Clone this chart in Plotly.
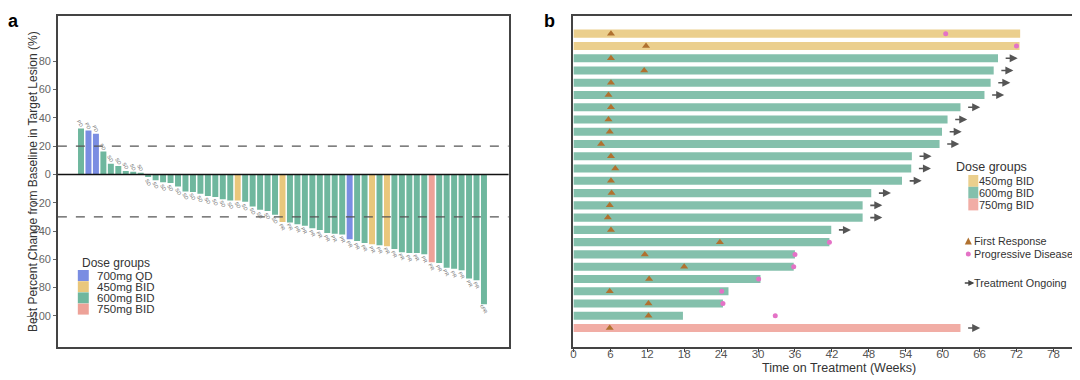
import plotly.graph_objects as go

# ---------------- Panel a data (waterfall) ----------------
best_change = [32.5, 31.0, 28.7, 16.2, 7.5, 5.9, 2.4, 1.9, 1.2,
               -1.9, -4.2, -5.6, -6.1, -8.5, -12.0, -12.5, -13.6, -15.3, -16.0,
               -17.6, -18.4, -18.4, -19.3, -22.6, -25.0, -25.9, -28.5, -33.6, -34.0,
               -35.3, -36.2, -38.0, -39.3, -41.4, -41.9, -42.4, -45.9, -47.0, -48.5,
               -49.4, -50.1, -50.8, -52.7, -55.0, -55.5, -55.5, -56.5, -62.0, -62.6,
               -65.9, -66.6, -67.8, -73.6, -74.8, -91.8]
dose_a = (["600mg BID", "700mg QD", "700mg QD"] + ["600mg BID"] * 18 + ["450mg BID"]
          + ["600mg BID"] * 5 + ["450mg BID"] + ["600mg BID"] * 8 + ["700mg QD"]
          + ["600mg BID"] * 2 + ["450mg BID"] + ["600mg BID"] + ["450mg BID"]
          + ["600mg BID"] * 5 + ["750mg BID"] + ["600mg BID"] * 7)
response_a = (["PD"] * 3 + ["SD"] * 24 + ["PR"] * 27 + ["cPR"])
groups_a = ["700mg QD", "450mg BID", "600mg BID", "750mg BID"]
colors_a = {"700mg QD": "#7a8de2", "450mg BID": "#e9c77c",
            "600mg BID": "#6fb79e", "750mg BID": "#eda298"}
yticks_a = [-100, -80, -60, -40, -20, 0, 20, 40, 60, 80]
ref_lines = [20, -30]

# ---------------- Panel b data (swimmer) ----------------
rows = list(range(1, 26))
dose_b = ["450mg BID"] * 2 + ["600mg BID"] * 22 + ["750mg BID"]
duration = [72.6, 72.5, 69.0, 68.3, 67.8, 66.8, 62.9, 60.8, 59.9, 59.5, 55.0, 54.9,
            53.4, 48.4, 47.0, 47.0, 41.9, 41.6, 36.0, 35.8, 30.4, 25.2, 24.3, 17.8, 62.9]
first_response = [6.1, 11.8, 6.1, 11.5, 6.1, 5.7, 6.1, 5.7, 5.9, 4.5, 6.1, 6.8, 6.1,
                  6.2, 5.9, 5.6, 6.1, 23.8, 11.6, 18.0, 12.3, 5.9, 12.2, 12.2, 5.9]
progression = [60.5, 72.0, None, None, None, None, None, None, None, None, None, None,
               None, None, None, None, None, 41.6, 36.0, 35.8, 30.1, 24.1, 24.3, 32.8, None]
ongoing = [False, False] + [True] * 15 + [False] * 7 + [True]
groups_b = ["450mg BID", "600mg BID", "750mg BID"]
colors_b = {"450mg BID": "#ebcf8d", "600mg BID": "#84c0ac", "750mg BID": "#f1ada5"}
xticks_b = list(range(0, 79, 6))

FONT = "Liberation Sans, Arial, sans-serif"
OFF = 8               # page body margin of the browser
W, H = 1080 - OFF, 380 - OFF
TRI = "#b0712f"
PDC = "#e472c6"
TXT = "#333"


def px(x):
    return (x - OFF) / W


def py(y):
    return 1 - (y - OFF) / H


def label(x, y, text, size, **kw):
    d = dict(x=px(x), y=py(y), xref="paper", yref="paper", text=text, showarrow=False,
             xanchor="left", yanchor="middle", font=dict(size=size, color=TXT, family=FONT))
    d.update(kw)
    return d


fig = go.Figure()

# ---- panel a bars ----
for g in groups_a:
    idx = [i for i, d in enumerate(dose_a) if d == g]
    fig.add_trace(go.Bar(x=idx, y=[best_change[i] for i in idx], width=0.8,
                         marker=dict(color=colors_a[g], line=dict(width=0)),
                         showlegend=False, xaxis="x", yaxis="y"))

annotations = []
for i, (v, r) in enumerate(zip(best_change, response_a)):
    off = 3.5 if v >= 0 else -3.5
    annotations.append(dict(x=i, y=v + off, xref="x", yref="y", text=r, showarrow=False,
                            textangle=60, font=dict(size=5, color="#666", family=FONT),
                            xanchor="center", yanchor="middle"))

shapes = []
for rl in ref_lines:
    shapes.append(dict(type="line", xref="x domain", yref="y", x0=0, x1=1, y0=rl, y1=rl,
                       line=dict(color="#555", width=1.3, dash="dash")))
shapes.append(dict(type="line", xref="x domain", yref="y", x0=0, x1=1, y0=0, y1=0,
                   line=dict(color="#111", width=1.5)))

# ---- panel b bars ----
for g in groups_b:
    idx = [i for i, d in enumerate(dose_b) if d == g]
    fig.add_trace(go.Bar(y=[rows[i] for i in idx], x=[duration[i] for i in idx],
                         orientation="h", width=0.66, base=0,
                         marker=dict(color=colors_b[g], line=dict(width=0)),
                         showlegend=False, xaxis="x2", yaxis="y2"))

fig.add_trace(go.Scatter(x=first_response, y=rows, mode="markers",
                         marker=dict(symbol="triangle-up", size=7, color=TRI),
                         showlegend=False, xaxis="x2", yaxis="y2"))
pr_x = [p for p in progression if p is not None]
pr_y = [r for p, r in zip(progression, rows) if p is not None]
fig.add_trace(go.Scatter(x=pr_x, y=pr_y, mode="markers",
                         marker=dict(symbol="circle", size=5, color=PDC),
                         showlegend=False, xaxis="x2", yaxis="y2"))

for r, d, on in zip(rows, duration, ongoing):
    if on:
        annotations.append(dict(x=d + 3.2, y=r, ax=d + 1.0, ay=r, xref="x2", yref="y2",
                                axref="x2", ayref="y2", text="", showarrow=True,
                                arrowhead=2, arrowsize=1, arrowwidth=1.6,
                                arrowcolor="#555"))

# ---- legend a (manual) ----
annotations.append(label(77, 263, "Dose groups", 12))
for k, g in enumerate(groups_a):
    y0 = 270 + k * 11.2
    shapes.append(dict(type="rect", xref="paper", yref="paper", x0=px(75), x1=px(86),
                       y0=py(y0), y1=py(y0 + 11), fillcolor=colors_a[g], line=dict(width=0)))
    annotations.append(label(92, y0 + 5.5, g, 11.5))

# ---- legend b (manual) ----
annotations.append(label(954, 167, "Dose groups", 12.5))
for k, g in enumerate(groups_b):
    y0 = 175 + k * 11.8
    shapes.append(dict(type="rect", xref="paper", yref="paper", x0=px(968), x1=px(978),
                       y0=py(y0), y1=py(y0 + 11.8), fillcolor=colors_b[g], line=dict(width=0)))
    annotations.append(label(977, y0 + 6, g, 11))

tri_path = "M {:.5f} {:.5f} L {:.5f} {:.5f} L {:.5f} {:.5f} Z".format(
    px(964.5), py(244.5), px(971.5), py(244.5), px(968), py(237.5))
shapes.append(dict(type="path", xref="paper", yref="paper", path=tri_path,
                   fillcolor=TRI, line=dict(width=0)))
shapes.append(dict(type="circle", xref="paper", yref="paper", x0=px(965.5), x1=px(970.5),
                   y0=py(256.5), y1=py(251.5), fillcolor=PDC, line=dict(width=0)))
annotations.append(label(972, 241, "First Response", 10.8))
annotations.append(label(972, 254, "Progressive Disease", 10.8))
annotations.append(dict(x=px(974), y=py(283), ax=-11, ay=0, xref="paper", yref="paper",
                        text="", showarrow=True, arrowhead=2, arrowsize=0.8, arrowwidth=1.5,
                        arrowcolor="#444"))
annotations.append(label(972, 283, "Treatment Ongoing", 10.8))

# ---- panel labels & titles ----
annotations.append(label(3, 8.5, "<b>a</b>", 18, yanchor="top",
                         font=dict(size=18, color="#000", family=FONT)))
annotations.append(label(540, 8.5, "<b>b</b>", 18, yanchor="top",
                         font=dict(size=18, color="#000", family=FONT)))
annotations.append(label(838, 368, "Time on Treatment (Weeks)", 12.5, xanchor="center"))
annotations.append(label(30, 181, "Best Percent Change from Baseline in Target Lesion (%)", 12,
                         textangle=-90, xanchor="center"))

fig.update_layout(
    width=W, height=H, margin=dict(l=0, r=0, t=0, b=0),
    paper_bgcolor="white", plot_bgcolor="white", barmode="overlay",
    font=dict(family=FONT),
    xaxis=dict(domain=[px(55), px(507)], range=[-3.1, 57.3], showticklabels=False,
               ticks="", showgrid=False, zeroline=False, showline=True, mirror=True,
               linecolor="#444", linewidth=1.5),
    yaxis=dict(domain=[py(347), py(16)], range=[-122, 112], tickvals=yticks_a,
               ticks="outside", ticklen=3, tickcolor="#666", showgrid=False, zeroline=False,
               showline=True, mirror=True, linecolor="#444", linewidth=1.5,
               tickfont=dict(size=11, color="#666", family=FONT)),
    xaxis2=dict(domain=[px(572), px(1078)], range=[0, 82], tickvals=xticks_b,
                ticks="outside", ticklen=3, tickcolor="#444", showgrid=False,
                zeroline=False, showline=True, mirror=True, linecolor="#444", linewidth=1.5,
                ticklabelstandoff=-8,
                tickfont=dict(size=11.5, color="#555", family=FONT), anchor="y2"),
    yaxis2=dict(domain=[py(347), py(16)], range=[26.55, -0.44], showticklabels=False,
                ticks="", showgrid=False, zeroline=False, showline=True, mirror=True,
                linecolor="#444", linewidth=1.5, anchor="x2"),
    shapes=shapes, annotations=annotations,
)

fig.write_html("out.html")
